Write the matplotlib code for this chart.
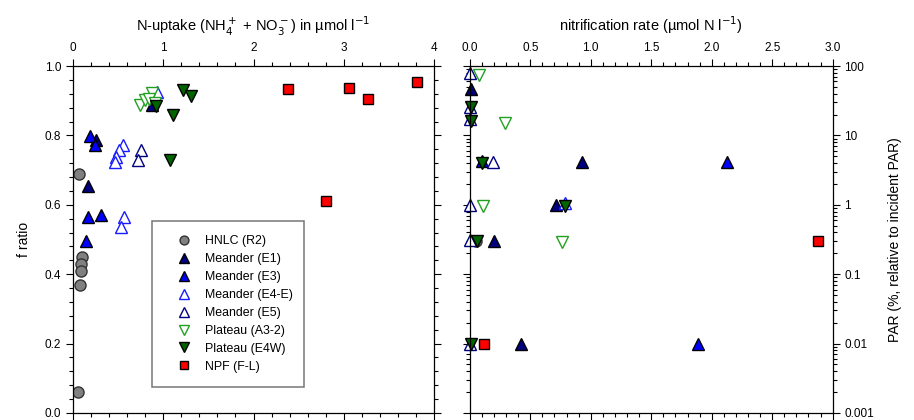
import numpy as np
import matplotlib.pyplot as plt
from matplotlib.ticker import MultipleLocator, LogLocator, FuncFormatter, NullFormatter

plt.rcParams['font.family'] = ['Liberation Sans', 'DejaVu Sans']

# ---- left panel: f ratio vs N-uptake ----
hnlc_x = [0.07, 0.10, 0.09, 0.09, 0.08, 0.05]
hnlc_y = [0.69, 0.45, 0.43, 0.41, 0.37, 0.06]
e1_x = [0.17, 0.26, 0.88]
e1_y = [0.654, 0.787, 0.887]
e3_x = [0.19, 0.24, 0.17, 0.31, 0.14]
e3_y = [0.798, 0.772, 0.565, 0.571, 0.496]
e4e_x = [0.55, 0.51, 0.48, 0.46, 0.56, 0.53, 0.93]
e4e_y = [0.772, 0.758, 0.738, 0.723, 0.565, 0.536, 0.925]
e5_x = [0.75, 0.72]
e5_y = [0.758, 0.729]
a32_x = [0.74, 0.80, 0.88, 0.84, 0.91]
a32_y = [0.888, 0.902, 0.922, 0.905, 0.893]
e4w_x = [1.22, 1.31, 1.11, 1.07, 0.92]
e4w_y = [0.931, 0.913, 0.859, 0.729, 0.885]
npf_x = [2.38, 3.06, 3.27, 3.81, 2.80]
npf_y = [0.934, 0.937, 0.905, 0.954, 0.611]

# ---- right panel: PAR vs nitrification rate ----
r_hnlc_x = [0.05]
r_hnlc_y = [0.3]
r_e1_x = [0.01, 0.93, 0.71, 0.20, 0.42]
r_e1_y = [47, 4.2, 1.0, 0.3, 0.01]
r_e3_x = [2.13, 1.89, 0.10]
r_e3_y = [4.2, 0.01, 4.3]
r_e4e_x = [0.79]
r_e4e_y = [1.05]
r_e5_x = [0.0, 0.0, 0.0, 0.19, 0.0, 0.0, 0.0]
r_e5_y = [80, 26, 17, 4.2, 1.0, 0.31, 0.01]
r_a32_x = [0.08, 0.29, 0.11, 0.76]
r_a32_y = [75, 15, 0.95, 0.29]
r_e4w_x = [0.01, 0.01, 0.10, 0.79, 0.06, 0.01]
r_e4w_y = [26, 16, 4.0, 0.97, 0.3, 0.01]
r_npf_x = [2.88, 0.12]
r_npf_y = [0.3, 0.01]

styles = [
    ('HNLC (R2)', 'o', 'gray', '#333333', 8),
    ('Meander (E1)', '^', '#000080', 'black', 8.5),
    ('Meander (E3)', '^', '#0000ff', 'black', 8.5),
    ('Meander (E4-E)', '^', 'white', '#1a1aff', 8.5),
    ('Meander (E5)', '^', 'white', '#000080', 8.5),
    ('Plateau (A3-2)', 'v', 'white', '#22a022', 8.5),
    ('Plateau (E4W)', 'v', '#006400', 'black', 8.5),
    ('NPF (F-L)', 's', '#ff0000', 'black', 7),
]

left_data = [(hnlc_x, hnlc_y), (e1_x, e1_y), (e3_x, e3_y), (e4e_x, e4e_y),
             (e5_x, e5_y), (a32_x, a32_y), (e4w_x, e4w_y), (npf_x, npf_y)]
right_data = [(r_hnlc_x, r_hnlc_y), (r_e1_x, r_e1_y), (r_e3_x, r_e3_y), (r_e4e_x, r_e4e_y),
              (r_e5_x, r_e5_y), (r_a32_x, r_a32_y), (r_e4w_x, r_e4w_y), (r_npf_x, r_npf_y)]

fig = plt.figure(figsize=(9.14, 4.2), dpi=100)
ax1 = fig.add_axes([0.0799, 0.0167, 0.395, 0.826])
ax2 = fig.add_axes([0.514, 0.0167, 0.397, 0.826])

for (lab, m, fc, ec, ms), (x, y) in zip(styles, left_data):
    ax1.plot(x, y, linestyle='none', marker=m, ms=ms, mfc=fc, mec=ec, mew=1, label=lab)
for (lab, m, fc, ec, ms), (x, y) in zip(styles, right_data):
    ax2.plot(x, y, linestyle='none', marker=m, ms=ms, mfc=fc, mec=ec, mew=1, clip_on=False)

# left axes
ax1.set_xlim(0, 4)
ax1.set_ylim(0, 1)
ax1.xaxis.set_major_locator(MultipleLocator(1))
ax1.xaxis.set_minor_locator(MultipleLocator(0.2))
ax1.yaxis.set_major_locator(MultipleLocator(0.2))
ax1.yaxis.set_minor_locator(MultipleLocator(0.04))
ax1.yaxis.set_major_formatter(FuncFormatter(lambda v, p: f'{v:.1f}'))
ax1.tick_params(which='both', direction='out', top=True, bottom=True, left=True, right=True,
                labeltop=True, labelbottom=False, labelsize=8.5, width=0.8)
ax1.tick_params(which='major', length=5)
ax1.tick_params(which='minor', length=3)
ax1.xaxis.set_label_position('top')
ax1.set_xlabel('N-uptake (NH$_4^+$ + NO$_3^-$) in µmol l$^{-1}$', fontsize=10.5, labelpad=8)
ax1.set_ylabel('f ratio', fontsize=10, labelpad=10)

leg = ax1.legend(loc='lower left', bbox_to_anchor=(0.22, 0.075, 0.42, 0.478), mode='expand',
                 fontsize=8.9, frameon=True, fancybox=False, borderpad=1.15, labelspacing=0.48,
                 handlelength=2.8, handletextpad=0.3, markerscale=0.8, numpoints=1,
                 borderaxespad=0)
leg.get_frame().set_edgecolor('#555555')
leg.get_frame().set_linewidth(1.1)

# right axes
ax2.set_xlim(0, 3.0)
ax2.set_yscale('log')
ax2.set_ylim(0.001, 100)
ax2.xaxis.set_major_locator(MultipleLocator(0.5))
ax2.xaxis.set_minor_locator(MultipleLocator(0.1))
ax2.xaxis.set_major_formatter(FuncFormatter(lambda v, p: f'{v:.1f}'))
ax2.yaxis.set_major_locator(LogLocator(base=10, numticks=10))
ax2.yaxis.set_minor_locator(LogLocator(base=10, subs=np.arange(2, 10), numticks=20))
ax2.yaxis.set_major_formatter(FuncFormatter(lambda v, p: f'{v:g}'))
ax2.yaxis.set_minor_formatter(NullFormatter())
ax2.tick_params(which='both', direction='out', top=True, bottom=True, left=True, right=True,
                labeltop=True, labelbottom=False, labelleft=False, labelright=True,
                labelsize=8.5, width=0.8)
ax2.tick_params(which='major', length=5)
ax2.tick_params(which='minor', length=3)
ax2.xaxis.set_label_position('top')
ax2.yaxis.set_label_position('right')
ax2.set_xlabel('nitrification rate (µmol N l$^{-1}$)', fontsize=10.5, labelpad=8)
ax2.set_ylabel('PAR (%, relative to incident PAR)', fontsize=10, labelpad=10)

for ax in (ax1, ax2):
    for s in ax.spines.values():
        s.set_linewidth(0.9)

fig.savefig('out.png', dpi=100)
